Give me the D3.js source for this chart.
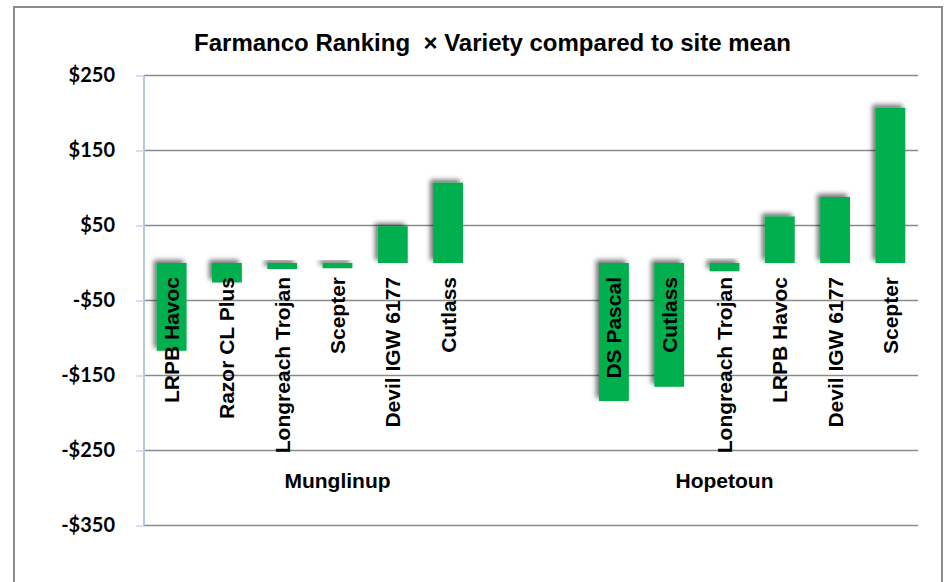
<!DOCTYPE html>
<html>
<head>
<meta charset="utf-8">
<script src="https://cdn.jsdelivr.net/npm/d3@7"></script>
<style>
  body { margin: 0; background: #fff; }
  svg { display: block; }
</style>
</head>
<body>
<div id="chart"></div>
<script>
// data
let sites = ["Munglinup", "Hopetoun"];
let munglinupVarieties = ["LRPB Havoc", "Razor CL Plus", "Longreach Trojan", "Scepter", "Devil IGW 6177", "Cutlass"];
let munglinupValues = [-117, -26, -8, -7, 49, 107];
let hopetounVarieties = ["DS Pascal", "Cutlass", "Longreach Trojan", "LRPB Havoc", "Devil IGW 6177", "Scepter"];
let hopetounValues = [-184, -165, -11, 62, 88, 207];
let yTicks = [250, 150, 50, -50, -150, -250, -350];

let width = 946, height = 582;
let plotLeft = 144, plotRight = 918, plotTop = 75.5, plotBottom = 525.5;

let svg = d3.select("#chart")
    .append("svg")
    .attr("width", width)
    .attr("height", height);

// drop shadow for the bars (up and to the left)
let defs = svg.append("defs");
let shadow = defs.append("filter")
    .attr("id", "shadow")
    .attr("x", "-50%").attr("y", "-50%")
    .attr("width", "200%").attr("height", "200%");
shadow.append("feGaussianBlur").attr("in", "SourceAlpha").attr("stdDeviation", 2.5);
shadow.append("feOffset").attr("dx", -3).attr("dy", -3).attr("result", "off");
shadow.append("feComponentTransfer").append("feFuncA").attr("type", "linear").attr("slope", 0.55);
let merge = shadow.append("feMerge");
merge.append("feMergeNode");
merge.append("feMergeNode").attr("in", "SourceGraphic");

// outer frame
svg.append("rect")
    .attr("x", 14).attr("y", 7)
    .attr("width", 928).attr("height", 600)
    .attr("fill", "#fff")
    .attr("stroke", "#8c8c8c")
    .attr("stroke-width", 2);

// build slots: each site takes 7 slots, one of them blank
let rows = [];
munglinupVarieties.forEach((v, i) => rows.push({ key: "M" + i, site: "Munglinup", name: v, value: munglinupValues[i] }));
rows.push({ key: "M-blank", site: "Munglinup", name: null, value: null });
rows.push({ key: "H-blank", site: "Hopetoun", name: null, value: null });
hopetounVarieties.forEach((v, i) => rows.push({ key: "H" + i, site: "Hopetoun", name: v, value: hopetounValues[i] }));

let x = d3.scaleBand()
    .domain(rows.map(d => d.key))
    .range([plotLeft, plotRight])
    .paddingInner(0.46)
    .paddingOuter(0.23);

let y = d3.scaleLinear()
    .domain([-350, 250])
    .range([plotBottom, plotTop]);

// gridlines
svg.append("g")
    .selectAll("line")
    .data(yTicks)
    .join("line")
    .attr("x1", plotLeft).attr("x2", plotRight)
    .attr("y1", d => y(d)).attr("y2", d => y(d))
    .attr("stroke", "#8a8a8a")
    .attr("stroke-width", 1.3);

// y axis
let yAxis = d3.axisLeft(y)
    .tickValues(yTicks)
    .tickSize(8)
    .tickPadding(21)
    .tickFormat(d => (d < 0 ? "-" : "") + "$" + Math.abs(d));

let yg = svg.append("g")
    .attr("transform", "translate(" + plotLeft + ",0)")
    .call(yAxis);
yg.select(".domain").attr("stroke", "#b4c7e7").attr("stroke-width", 2)
    .attr("d", "M0," + plotTop + "V" + plotBottom);
yg.selectAll(".tick line").attr("stroke", "#c9d6ee").attr("stroke-width", 1.5);
yg.selectAll(".tick text")
    .attr("font-family", "Lato, sans-serif")
    .attr("font-weight", "bold")
    .attr("font-size", 20)
    .attr("fill", "#000");

// bars
svg.append("g")
    .selectAll("rect")
    .data(rows.filter(d => d.value !== null))
    .join("rect")
    .attr("x", d => x(d.key))
    .attr("width", x.bandwidth())
    .attr("y", d => y(Math.max(0, d.value)))
    .attr("height", d => Math.abs(y(d.value) - y(0)))
    .attr("fill", "#00b050")
    .attr("filter", "url(#shadow)");

// variety labels, rotated
svg.append("g")
    .selectAll("text")
    .data(rows.filter(d => d.name !== null))
    .join("text")
    .attr("transform", d => "translate(" + (x(d.key) + x.bandwidth() / 2) + "," + (y(0) + 14) + ") rotate(-90)")
    .attr("text-anchor", "end")
    .attr("dy", "0.36em")
    .attr("font-family", "'Liberation Sans', Arial, sans-serif")
    .attr("font-weight", "bold")
    .attr("font-size", 21)
    .attr("fill", "#000")
    .text(d => d.name);

// site labels, centred on each site's 7 slots
svg.append("g")
    .selectAll("text")
    .data(sites)
    .join("text")
    .attr("x", s => {
        let keys = rows.filter(d => d.site === s).map(d => d.key);
        let first = x(keys[0]) + x.bandwidth() / 2;
        let last = x(keys[keys.length - 1]) + x.bandwidth() / 2;
        return (first + last) / 2;
    })
    .attr("y", 488)
    .attr("text-anchor", "middle")
    .attr("font-family", "'Liberation Sans', Arial, sans-serif")
    .attr("font-weight", "bold")
    .attr("font-size", 21)
    .attr("fill", "#000")
    .text(s => s);

// title
svg.append("text")
    .attr("x", 492.5)
    .attr("y", 51)
    .attr("text-anchor", "middle")
    .attr("font-family", "'Liberation Sans', Arial, sans-serif")
    .attr("font-weight", "bold")
    .attr("font-size", 24)
    .attr("fill", "#000")
    .style("white-space", "pre")
    .text("Farmanco Ranking  \u00d7 Variety compared to site mean");
</script>
</body>
</html>
